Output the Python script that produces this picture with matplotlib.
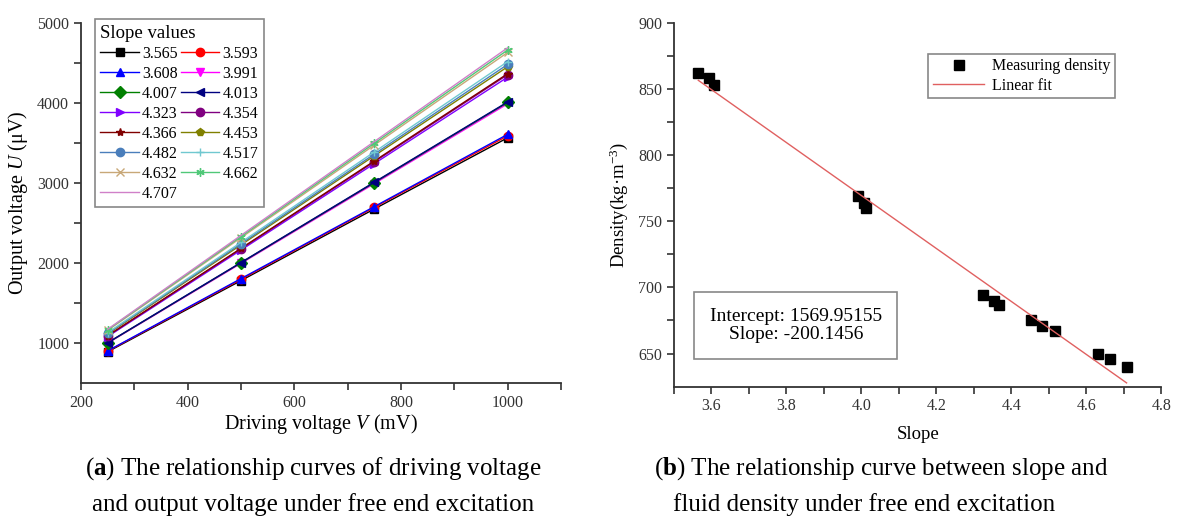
import matplotlib
matplotlib.use("Agg")
import matplotlib.pyplot as plt

plt.rcParams['font.family'] = ['Liberation Serif', 'DejaVu Serif']
plt.rcParams['mathtext.fontset'] = 'custom'
plt.rcParams['mathtext.it'] = 'Liberation Serif:italic'
plt.rcParams['mathtext.rm'] = 'Liberation Serif'
plt.rcParams['mathtext.bf'] = 'Liberation Serif:bold'

# (a) driving voltage vs output voltage
drive_v = [250, 500, 750, 1000]
slope_labels = ['3.565', '3.593', '3.608', '3.991', '4.007', '4.013', '4.323', '4.354',
                '4.366', '4.453', '4.482', '4.517', '4.632', '4.662', '4.707']
out_u = [
    [890, 1780, 2675, 3565],
    [898, 1795, 2695, 3590],
    [902, 1805, 2705, 3608],
    [998, 1995, 2992, 3990],
    [1002, 2003, 3005, 4007],
    [1004, 2006, 3010, 4013],
    [1080, 2162, 3242, 4323],
    [1088, 2177, 3265, 4354],
    [1092, 2183, 3275, 4366],
    [1113, 2226, 3340, 4453],
    [1120, 2241, 3361, 4482],
    [1129, 2258, 3388, 4517],
    [1158, 2316, 3474, 4632],
    [1166, 2331, 3497, 4662],
    [1172, 2345, 3518, 4690],
]
colors = ['#000000', '#ff0000', '#0000ff', '#ff00ff', '#008000', '#000080', '#8000ff',
          '#800080', '#800000', '#808000', '#4a7ebb', '#70c8d0', '#c8a878', '#50c878', '#d080c8']
markers = ['s', 'o', '^', 'v', 'D', '<', '>', 'o', '*', 'p', 'o', '+', 'x', (6, 2, 0), None]

# (b) slope vs density
slope_x = [3.565, 3.593, 3.608, 3.991, 4.007, 4.013, 4.323, 4.354, 4.366,
           4.453, 4.482, 4.517, 4.632, 4.662, 4.707]
density = [862, 858, 853, 769, 764, 760, 694, 690, 687, 675, 671, 667, 650, 646, 640]
fit_intercept = 1569.95155
fit_slope = -200.1456

fig = plt.figure(figsize=(11.77, 5.31), dpi=100)

ax1 = fig.add_axes([0.0688, 0.2787, 0.4078, 0.678])
lines = []
for i in range(len(slope_labels)):
    ln, = ax1.plot(drive_v, out_u[i], color=colors[i], marker=markers[i], markersize=6,
                   linewidth=1.0, label=slope_labels[i])
    lines.append(ln)
ax1.set_xlim(200, 1100)
ax1.set_ylim(500, 5000)
ax1.set_xticks([200, 400, 600, 800, 1000])
ax1.set_xticks(range(300, 1101, 200), minor=True)
ax1.set_yticks([1000, 2000, 3000, 4000, 5000])
ax1.set_yticks([1500, 2500, 3500, 4500], minor=True)
ax1.set_xlabel('Driving voltage $\\mathit{V}$ (mV)', fontsize=14.5, labelpad=1)
ax1.set_ylabel('Output voltage $\\mathit{U}$ (μV)', fontsize=14.5, labelpad=5)

# legend reads row by row: reorder so matplotlib's column fill gives that
ordered = lines[0::2] + lines[1::2]
leg = ax1.legend(ordered, [l.get_label() for l in ordered], title='Slope values', ncol=2,
                 loc='upper left', bbox_to_anchor=(0.029, 1.011), borderaxespad=0,
                 fontsize=11.5, title_fontsize=13.5, handlelength=2.4, columnspacing=0.2,
                 handletextpad=0.2, labelspacing=0.25, borderpad=0.35, fancybox=False,
                 edgecolor='#888888', framealpha=1, alignment='left')
leg.get_frame().set_linewidth(1.2)

ax2 = fig.add_axes([0.5726, 0.2718, 0.4142, 0.6855])
ax2.plot(slope_x, density, 's', color='black', markersize=7, label='Measuring density')
fit_x = [slope_x[0], slope_x[-1]]
fit_y = [fit_intercept + fit_slope * x for x in fit_x]
ax2.plot(fit_x, fit_y, color='#e06060', linewidth=1.0, label='Linear fit')
ax2.set_xlim(3.5, 4.8)
ax2.set_ylim(625, 900)
ax2.set_xticks([3.6, 3.8, 4.0, 4.2, 4.4, 4.6, 4.8])
ax2.set_xticks([3.5, 3.7, 3.9, 4.1, 4.3, 4.5, 4.7], minor=True)
ax2.set_yticks([650, 700, 750, 800, 850, 900])
ax2.set_yticks([675, 725, 775, 825, 875], minor=True)
ax2.set_xlabel('Slope', fontsize=13.5, labelpad=8)
ax2.set_ylabel('Density(kg·m$^{-3}$)', fontsize=13.5, labelpad=6)
leg2 = ax2.legend(loc='upper left', bbox_to_anchor=(0.522, 0.915), borderaxespad=0,
                  fontsize=11.5, fancybox=False, edgecolor='#888888', framealpha=1,
                  handlelength=3.2, handletextpad=0.5, borderpad=0.3, labelspacing=0.2)
leg2.get_frame().set_linewidth(1.2)
ax2.text(0.25, 0.168, 'Intercept: 1569.95155\nSlope: -200.1456', transform=ax2.transAxes,
         fontsize=14, ha='center', va='center', multialignment='center', linespacing=1.1,
         bbox=dict(boxstyle='square,pad=0.8', facecolor='white', edgecolor='#888888', linewidth=1.2))

for ax in (ax1, ax2):
    ax.spines['top'].set_visible(False)
    ax.spines['right'].set_visible(False)
    for s in ('left', 'bottom'):
        ax.spines[s].set_linewidth(1.3)
        ax.spines[s].set_color('#333333')
    ax.tick_params(which='major', direction='out', length=5, width=1.2, labelsize=11.5,
                   colors='#333333', labelcolor='#333333')
    ax.tick_params(which='minor', direction='out', length=5, width=1.2, colors='#333333')

cap_kw = dict(fontsize=18, ha='center', va='center', family=['Liberation Serif', 'DejaVu Serif'])
fig.text(0.266, 0.117, '($\\mathbf{a}$) The relationship curves of driving voltage', **cap_kw)
fig.text(0.266, 0.049, 'and output voltage under free end excitation', **cap_kw)
fig.text(0.749, 0.117, '($\\mathbf{b}$) The relationship curve between slope and', **cap_kw)
fig.text(0.734, 0.049, 'fluid density under free end excitation', **cap_kw)

fig.savefig('out.png', dpi=100)
